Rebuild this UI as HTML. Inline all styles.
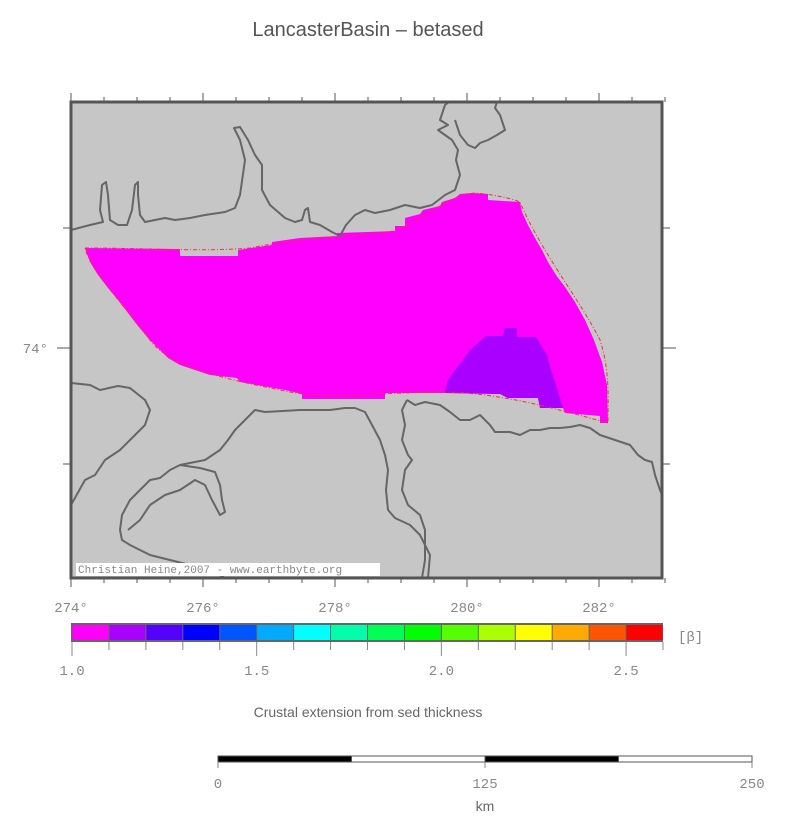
<!DOCTYPE html>
<html><head><meta charset="utf-8"><style>
body{margin:0;background:#fff;width:787px;height:833px;overflow:hidden}
svg{display:block}
text{font-family:"Liberation Sans",sans-serif}
text.mono{font-family:"Liberation Mono",monospace;fill:#888;font-size:14px}
text.credit{font-family:"Liberation Mono",monospace;fill:#888;font-size:11px}
.coast{fill:none;stroke:#666;stroke-width:2;stroke-linejoin:round}
</style></head><body>
<svg id="chart" width="787" height="833" viewBox="0 0 787 833">
<text x="368" y="36" text-anchor="middle" font-size="20" fill="#555">LancasterBasin – betased</text>
<g id="map">
<rect x="71" y="102" width="591" height="476" fill="#c6c6c6"/>
<path fill="#ff00ff" d="M85,248 L180,249 L180,256 L238,256 L238,250 L272,245 L272,242 L300,238 L337,236 L337,233 L395,231 L395,226 L405,226 L405,218 L420,214 L423,210 L440,206 L442,202 L455,198 L460,194 L472,193 L488,194 L488,200 L520,202 L522,212 L528,225 L535,238 L542,250 L548,262 L556,275 L565,287 L575,302 L585,320 L594,340 L602,362 L607,385 L608,423 L600,423 L600,416 L565,413 L563,408 L540,408 L538,398 L508,398 L500,394 L445,393 L385,393 L385,399 L302,399 L302,394 L285,390 L240,382 L237,378 L210,375 L195,370 L180,365 L168,358 L158,348 L148,338 L138,326 L128,313 L118,300 L108,288 L98,275 L90,262 Z"/>
<path fill="#aa00ff" d="M445,391 L448,380 L455,370 L463,360 L470,350 L478,343 L486,336 L503,336 L505,328 L517,328 L517,337 L536,337 L541,345 L547,355 L551,370 L556,385 L560,398 L563,408 L540,408 L538,398 L508,398 L500,394 L445,393 Z"/>
<path fill="none" stroke="#e33" stroke-width="1" stroke-dasharray="4,2,1,2" d="M85,248 C150,248 200,252 250,248 C300,238 350,236 395,231 C430,215 450,195 475,193 C500,195 515,200 520,202 C540,250 580,300 600,340 C610,370 608,400 608,423 C560,410 500,392 440,392 C380,393 320,398 290,392 C230,380 170,368 150,340 C120,300 90,270 85,248"/>
<polyline class="coast" points="71,230 90,225 103,222 100,210 102,185 106,182 108,195 110,220 118,225 127,225 132,210 135,185 138,182 138,195 140,215 145,222 155,220 165,218 175,220 190,218 205,215 225,212 235,208 240,195 245,160 240,140 234,128 240,127 248,140 255,155 262,165 262,190 270,205 285,218 295,222 302,220 305,210 308,208 310,222 320,225 332,232 340,236 346,225 355,215 365,210 375,213 390,210 405,205 420,208 432,205 445,195 455,190 460,175 456,160 458,150 452,140 445,135 438,130 448,125 440,120 445,105 449,102"/>
<polyline class="coast" points="455,120 460,135 468,145 475,148 480,143 488,140 497,135 505,130 500,115 495,108 497,102"/>
<polyline class="coast" points="71,383 90,385 100,390 118,386 130,388 145,400 150,410 145,425 130,440 120,450 105,460 95,475 85,480 71,505"/>
<polyline class="coast" points="225,578 220,575 210,570 190,565 170,560 150,555 140,550 130,545 122,540 120,530 122,515 130,500 140,490 150,480 160,478 170,470 180,465 205,460 220,450 228,440 235,430 243,422 255,410 265,412 300,410 315,410 330,410 345,408 355,408 365,412 372,425 380,440 385,455 388,470 386,490 388,510 395,518 410,525 420,535 425,545 430,555 428,578"/>
<polyline class="coast" points="180,465 200,468 215,472 220,485 222,500 225,512 220,515 212,500 205,485 195,480 180,490 165,495 150,505 140,520 128,530"/>
<polyline class="coast" points="407,400 415,405 425,402 440,405 450,412 460,420 470,420 480,415 490,425 495,432 510,432 520,435 530,430 540,430 550,428 560,428 570,427 580,425 590,428 600,435 615,440 630,445 638,455 645,460 652,462 655,475 660,490 662,495"/>
<polyline class="coast" points="407,400 402,410 405,425 402,440 408,455 412,460 405,470 402,490 408,505 420,515 425,530 425,560 422,578"/>
<rect x="76" y="563" width="304" height="13" fill="#fff"/>
<text x="78" y="573" class="credit">Christian Heine,2007 - www.earthbyte.org</text>
<rect x="71" y="102" width="591" height="476" fill="none" stroke="#555" stroke-width="3"/>
<g id="ticks"></g>
</g>
<g id="cbar"></g>
<text x="678" y="641" class="mono" font-size="15">[β]</text>
<text x="368" y="717" text-anchor="middle" font-size="14" fill="#666">Crustal extension from sed thickness</text>
<g id="scale"></g>
<text x="485" y="811" text-anchor="middle" font-size="14" fill="#666">km</text>
</svg>
<script>
const lonLabels=["274°","276°","278°","280°","282°"];
const lonPos=[274,276,278,280,282];
const latLabels=["74°"];
const betaColors=["#ff00ff","#aa00ff","#5500ff","#0000ff","#0055ff","#00aaff","#00ffff","#00ffaa","#00ff55","#00ff00","#55ff00","#aaff00","#ffff00","#ffaa00","#ff5500","#ff0000"];
const betaTicks=[1.0,1.5,2.0,2.5];
const scaleTicks=[0,125,250];
const NS="http://www.w3.org/2000/svg";
function mk(p,t,a){const e=document.createElementNS(NS,t);for(const k in a)e.setAttribute(k,a[k]);p.appendChild(e);return e;}
const lonX=v=>71+(v-274)*66;
const ticks=document.getElementById('ticks');
for(let v=274;v<=283;v+=0.5){const x=lonX(v);const L=(v%2===0)?9:5;
 let t=mk(ticks,'line',{x1:x,x2:x,y1:102,y2:102-L,stroke:'#555'});
 t=mk(ticks,'line',{x1:x,x2:x,y1:578,y2:578+L,stroke:'#555'});}
[228,348,464].forEach((y,i)=>{const L=i===1?14:8;
 let t=mk(ticks,'line',{x1:71,x2:71-L,y1:y,y2:y,stroke:'#555'});
 t=mk(ticks,'line',{x1:662,x2:662+L,y1:y,y2:y,stroke:'#555'});});
lonPos.forEach((v,i)=>{const t=mk(ticks,'text',{x:lonX(v),y:612,'text-anchor':'middle',class:'mono'});t.textContent=lonLabels[i];
 });
latLabels.forEach(l=>{const t=mk(ticks,'text',{x:48,y:353,'text-anchor':'end',class:'mono'});t.textContent=l;
 });
const cb=document.getElementById('cbar');
const bX=b=>72+(b-1.0)*(591/1.6);
mk(cb,'rect',{x:71,y:623,width:592,height:19,fill:'#666'});
betaColors.forEach((c,i)=>{const x0=bX(1+i*0.1),x1=bX(1+(i+1)*0.1);
 const r=mk(cb,'rect',{x:x0+0.5,y:625,width:x1-x0-1,height:15,fill:c});
 
 const t=mk(cb,'line',{x1:x0,x2:x0,y1:642,y2:(i%5===0)?656:650,stroke:'#888'});});
mk(cb,'line',{x1:bX(2.6),x2:bX(2.6),y1:642,y2:650,stroke:'#888'});
betaTicks.forEach(v=>{const t=mk(cb,'text',{x:bX(v),y:675,'text-anchor':'middle',class:'mono'});t.textContent=v.toFixed(1);
 });
const sc=document.getElementById('scale');
const kX=k=>218+k*(534/250);
for(let i=0;i<4;i++){const r=mk(sc,'rect',{x:kX(i*62.5),y:756,width:kX(62.5)-218,height:6,fill:i%2?'#fff':'#000',stroke:'#555','stroke-width':1});
 }
scaleTicks.forEach(k=>{const l=mk(sc,'line',{x1:kX(k),x2:kX(k),y1:762,y2:768,stroke:'#888'});
 const t=mk(sc,'text',{x:kX(k),y:788,'text-anchor':'middle',class:'mono'});t.textContent=k;
 });
</script>
</body></html>
